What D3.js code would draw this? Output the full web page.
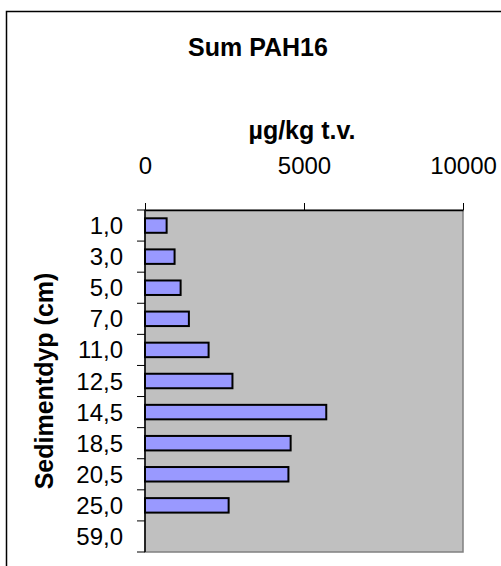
<!DOCTYPE html>
<html>
<head>
<meta charset="utf-8">
<script src="https://cdn.jsdelivr.net/npm/d3@7/dist/d3.min.js"></script>
<style>
  html, body { margin: 0; padding: 0; background: #fff; }
  svg { display: block; }
  text { font-family: "Liberation Sans", Arial, sans-serif; fill: #000; }
</style>
</head>
<body>
<svg id="chart" width="501" height="566"></svg>
<script>
// ---- data ----
const categories = ["1,0", "3,0", "5,0", "7,0", "11,0", "12,5", "14,5", "18,5", "20,5", "25,0", "59,0"];
const values = [680, 930, 1120, 1380, 2000, 2750, 5700, 4580, 4510, 2630, null];
const xTicks = [0, 5000, 10000];
const title = "Sum PAH16";
const xTitle = "µg/kg t.v.";
const yTitle = "Sedimentdyp (cm)";

// ---- layout ----
const plot = { left: 145, right: 463, top: 210, bottom: 552 };
const FS = 24, FT = 25;

const svg = d3.select("#chart");

// outer chart border (extends beyond the visible area)
svg.append("rect")
  .attr("x", 6.5).attr("y", 11.5)
  .attr("width", 600).attr("height", 700)
  .attr("fill", "#fff").attr("stroke", "#000").attr("stroke-width", 1.5);

const x = d3.scaleLinear().domain([0, 10000]).range([plot.left, plot.right]);
const pad = 0.534;
const y = d3.scaleBand().domain(categories).range([plot.top, plot.bottom])
  .paddingInner(pad).paddingOuter(pad / 2);

// plot area
svg.append("rect")
  .attr("x", plot.left).attr("y", plot.top)
  .attr("width", plot.right - plot.left).attr("height", plot.bottom - plot.top)
  .attr("fill", "#C0C0C0").attr("stroke", "#808080").attr("stroke-width", 1.5);

// bars
svg.append("g").selectAll("rect")
  .data(categories.map((c, i) => ({ c, v: values[i] })).filter(d => d.v != null && d.v > 0))
  .join("rect")
  .attr("x", x(0))
  .attr("y", d => y(d.c))
  .attr("width", d => x(d.v) - x(0))
  .attr("height", y.bandwidth())
  .attr("fill", "#9999FF")
  .attr("stroke", "#000")
  .attr("stroke-width", 2);

// top x axis
const xAxis = svg.append("g")
  .attr("transform", `translate(0,${plot.top})`)
  .call(d3.axisTop(x).tickValues(xTicks).tickSize(7).tickSizeOuter(0).tickFormat(d3.format("d")));
xAxis.select(".domain").attr("stroke", "#000").attr("stroke-width", 1.5);
xAxis.selectAll(".tick line").attr("stroke", "#000");
xAxis.selectAll(".tick text")
  .attr("y", -36).attr("dy", null)
  .attr("font-size", FS).attr("font-family", null);

// left y axis: labels centered in bands, ticks at band boundaries
const yAxis = svg.append("g").attr("transform", `translate(${plot.left},0)`);
yAxis.append("line")
  .attr("x1", 0).attr("x2", 0).attr("y1", plot.top).attr("y2", plot.bottom)
  .attr("stroke", "#000").attr("stroke-width", 1.5);
const step = y.step();
const boundaries = categories.map(c => y(c) - step * pad / 2)
  .concat([y(categories[categories.length - 1]) + y.bandwidth() + step * pad / 2]);
yAxis.selectAll("line.tk").data(boundaries).join("line")
  .attr("class", "tk")
  .attr("x1", -8).attr("x2", 0).attr("y1", d => d).attr("y2", d => d)
  .attr("stroke", "#000");
yAxis.selectAll("text.lbl").data(categories).join("text")
  .attr("class", "lbl")
  .attr("text-anchor", "end")
  .attr("font-size", FS)
  .attr("x", -22)
  .attr("y", c => y(c) + y.bandwidth() / 2 + 8.5)
  .text(c => c);

// titles
svg.append("text")
  .attr("text-anchor", "middle").attr("font-weight", "bold").attr("font-size", FT)
  .attr("x", 258).attr("y", 56)
  .text(title);
svg.append("text")
  .attr("text-anchor", "middle").attr("font-weight", "bold").attr("font-size", FT)
  .attr("x", (plot.left + plot.right) / 2 - 2).attr("y", 139)
  .text(xTitle);
svg.append("text")
  .attr("text-anchor", "middle").attr("font-weight", "bold").attr("font-size", FT)
  .attr("transform", `translate(53,${(plot.top + plot.bottom) / 2}) rotate(-90)`)
  .text(yTitle);
</script>
</body>
</html>
